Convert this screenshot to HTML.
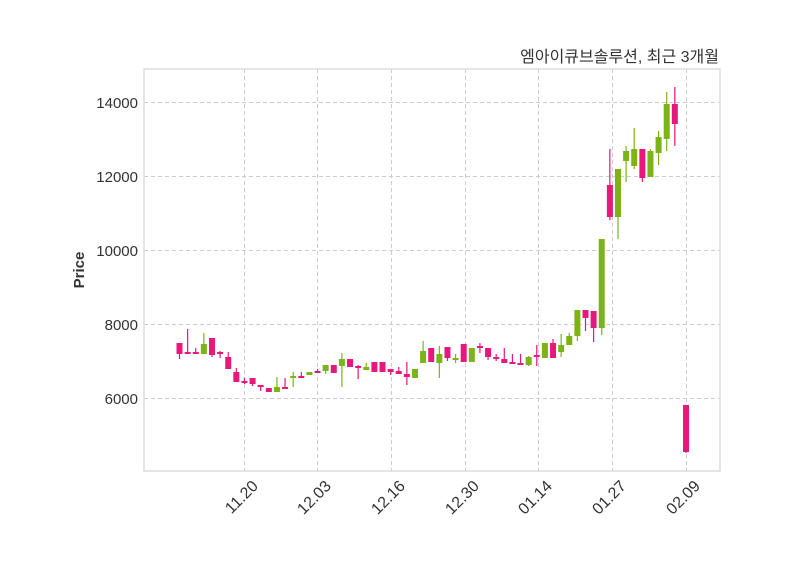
<!DOCTYPE html>
<html><head><meta charset="utf-8"><style>body{margin:0;background:#fff}svg{display:block}</style></head>
<body>
<svg id="s" width="800" height="575" xmlns="http://www.w3.org/2000/svg" font-family="Liberation Sans, sans-serif">
<rect width="800" height="575" fill="#fff"/>
<g stroke="#cccccc" stroke-dasharray="4,3" stroke-width="1">
<line x1="144" x2="720" y1="102.5" y2="102.5"/><line x1="144" x2="720" y1="176.5" y2="176.5"/>
<line x1="144" x2="720" y1="250.5" y2="250.5"/><line x1="144" x2="720" y1="324.5" y2="324.5"/>
<line x1="144" x2="720" y1="398.5" y2="398.5"/>
<line y1="69" y2="471" x1="244.5" x2="244.5"/><line y1="69" y2="471" x1="317.5" x2="317.5"/>
<line y1="69" y2="471" x1="391.5" x2="391.5"/><line y1="69" y2="471" x1="465.5" x2="465.5"/>
<line y1="69" y2="471" x1="538.5" x2="538.5"/><line y1="69" y2="471" x1="612.5" x2="612.5"/>
<line y1="69" y2="471" x1="686.5" x2="686.5"/>
</g>
<g id="c"></g>
<rect x="144" y="69" width="576" height="402" fill="none" stroke="#dddddd" stroke-width="1.5"/>
<g font-size="15" fill="#333" text-anchor="end">
<text x="138" y="108">14000</text><text x="138" y="182">12000</text><text x="138" y="256">10000</text>
<text x="138" y="330">8000</text><text x="138" y="404">6000</text>
</g>
<g font-size="16" fill="#333" text-anchor="end">
<text transform="translate(259,487) rotate(-45)">11.20</text>
<text transform="translate(332,487) rotate(-45)">12.03</text>
<text transform="translate(406,487) rotate(-45)">12.16</text>
<text transform="translate(480,487) rotate(-45)">12.30</text>
<text transform="translate(553,487) rotate(-45)">01.14</text>
<text transform="translate(627,487) rotate(-45)">01.27</text>
<text transform="translate(701,487) rotate(-45)">02.09</text>
</g>
<text transform="translate(84,270) rotate(-90)" font-size="15" font-weight="bold" fill="#333" text-anchor="middle">Price</text>
<text x="719" y="62" font-size="16" fill="#333" text-anchor="end" font-family="Liberation Sans, Noto Sans CJK KR, sans-serif">엠아이큐브솔루션, 최근 3개월</text>
</svg>
<script>
var P='#e8177c',G='#7cb316';
var d=[
[343,354,343,359,P],[352,354,329,354,P],[352,354,348,354,P],[344,354,333,354,G],[338,355,338,357,P],
[352,354,351,358,P],[357,369,352,369,P],[372,382,368,382,P],[381,383,378,384,P],[378,384,378,386,P],
[385,387,385,391,P],[388,392,388,392,P],[387,392,377,392,G],[387,389,378,389,P],[376,378,372,387,G],
[376,378,372,378,P],[372,375,372,375,G],[371,373,369,373,P],[365,371,365,374,G],[365,373,365,373,P],
[359,366,353,387,G],[359,367,359,367,P],[366,368,365,379,P],[367,370,363,370,G],[362,372,362,372,P],
[362,372,362,372,P],[369,372,369,375,P],[371,374,367,374,P],[374,377,362,385,P],[369,378,369,378,G],
[351,363,341,363,G],[348,362,348,362,P],[354,363,346,378,G],[347,358,347,361,P],[358,360,354,363,G],
[344,362,344,362,P],[348,362,348,362,G],[346,348,343,353,P],[348,357,348,360,P],[357,359,354,361,P],
[359,363,348,363,P],[362,364,354,364,P],[363,365,354,365,P],[357,365,356,366,G],[355,357,345,366,P],
[343,358,343,358,G],[343,358,339,358,P],[345,352,334,357,G],[336,345,333,345,G],[310,336,310,341,G],
[310,318,310,331,P],[311,328,311,342,P],[239,328,239,335,G],[185,217,149,220,P],[169,217,169,239,G],
[151,161,146,182,G],[149,166,128,169,G],[149,178,149,182,P],[151,177,149,177,G],[137,153,131,165,G],
[104,139,92,151,G],[104,124,87,146,P]];
var s='';
function c(x,a){s+='<line x1="'+x+'" x2="'+x+'" y1="'+a[2]+'" y2="'+a[3]+'" stroke="'+a[4]+'" stroke-width="1.2"/>';
s+='<rect x="'+(x-3)+'" y="'+a[0]+'" width="6" height="'+Math.max(1.5,a[1]-a[0])+'" fill="'+a[4]+'"/>';}
d.forEach(function(a,k){c(179.5+8.12*k,a);});
c(686,[405,452,405,453,P]);
document.getElementById('c').innerHTML=s;
</script>
</body></html>
